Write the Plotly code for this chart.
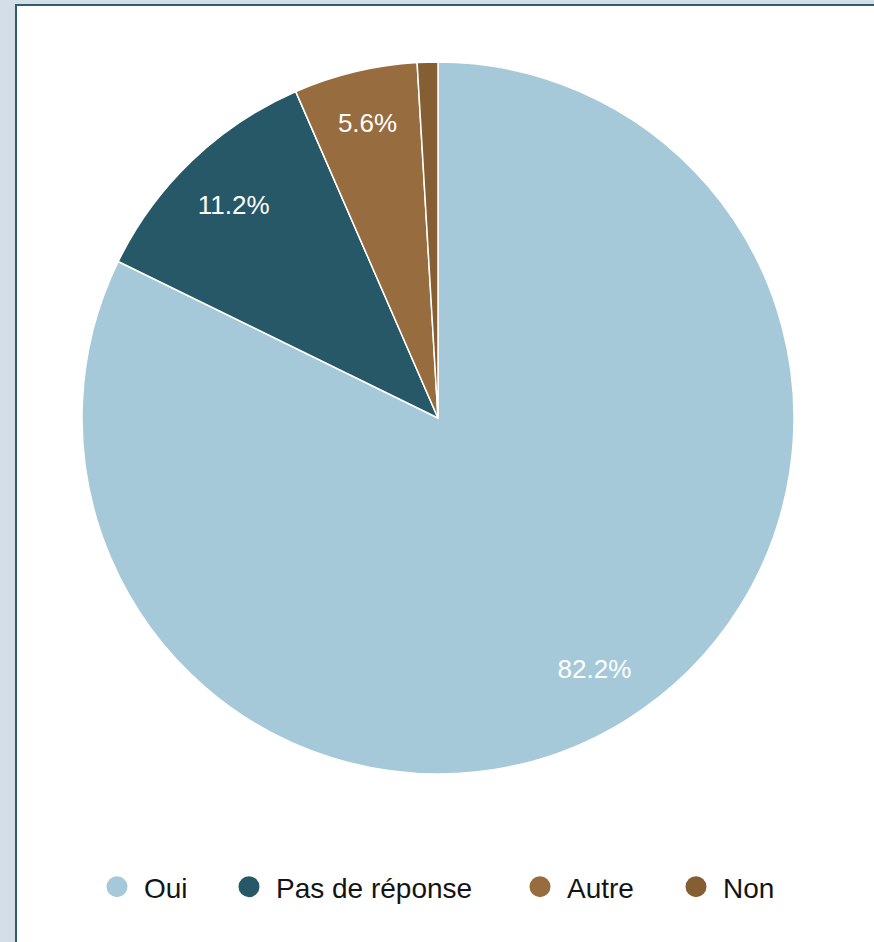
import plotly.graph_objects as go

categories = ["Oui", "Pas de réponse", "Autre", "Non"]
counts = [88, 12, 6, 1]
colors = ["#a6c9d9", "#265868", "#976c3e", "#865e34"]
show_label = [True, True, True, False]
legend_circle_x = [117, 249, 540, 696]

W, H = 874, 942
ML, MT = 16, 5
PW, PH = W - ML, H - MT

cx, cy, R = 438, 418, 356
dom_x = [(cx - R - ML) / PW, (cx + R - ML) / PW]
dom_y = [1 - (cy + R - MT) / PH, 1 - (cy - R - MT) / PH]

fig = go.Figure()
# coloured slices
fig.add_trace(go.Pie(
    labels=categories,
    values=counts,
    sort=False,
    direction="clockwise",
    rotation=0,
    marker=dict(colors=colors, line=dict(color="white", width=1.5)),
    textinfo="none",
    domain=dict(x=dom_x, y=dom_y),
    showlegend=False,
    hoverinfo="label+percent",
))
# transparent ring that carries the percentage labels near the outer edge
fig.add_trace(go.Pie(
    labels=categories,
    values=counts,
    sort=False,
    direction="clockwise",
    rotation=0,
    hole=0.66,
    marker=dict(colors=["rgba(0,0,0,0)"] * len(categories), line=dict(width=0)),
    texttemplate=["%{percent:.1%}" if s else "" for s in show_label],
    textposition="inside",
    insidetextorientation="horizontal",
    textfont=dict(family="Liberation Sans, Arial, sans-serif", size=26, color="white"),
    domain=dict(x=dom_x, y=dom_y),
    showlegend=False,
    hoverinfo="skip",
))

layout_legends = {}
for i, (cat, col, lx) in enumerate(zip(categories, colors, legend_circle_x)):
    lname = "legend" if i == 0 else f"legend{i + 1}"
    fig.add_trace(go.Scatter(
        x=[None], y=[None], mode="markers", name=cat,
        marker=dict(symbol="circle", size=16, color=col, line=dict(color=col, width=5)),
        showlegend=True, legend=lname,
    ))
    layout_legends[lname] = dict(
        orientation="h",
        x=(lx - 27 - ML) / PW, xanchor="left",
        y=1 - (887 - MT) / PH, yanchor="middle",
        font=dict(family="Liberation Sans, Arial, sans-serif", size=28, color="#141414"),
        itemsizing="trace",
        itemwidth=44,
        bgcolor="rgba(0,0,0,0)",
    )

fig.update_layout(
    width=W, height=H,
    margin=dict(l=ML, r=0, t=MT, b=0),
    paper_bgcolor="#d3dee8",
    plot_bgcolor="rgba(0,0,0,0)",
    xaxis=dict(visible=False),
    yaxis=dict(visible=False),
    showlegend=True,
    shapes=[dict(
        type="rect", xref="paper", yref="paper",
        x0=0, x1=1.02, y0=-0.02, y1=1,
        fillcolor="white", line=dict(color="#2e5d6c", width=2),
        layer="below",
    )],
    **layout_legends,
)

fig.write_html(
    "out.html",
    config={"displayModeBar": False},
    post_script="document.body.style.margin='0px';document.body.style.overflow='hidden';",
)
